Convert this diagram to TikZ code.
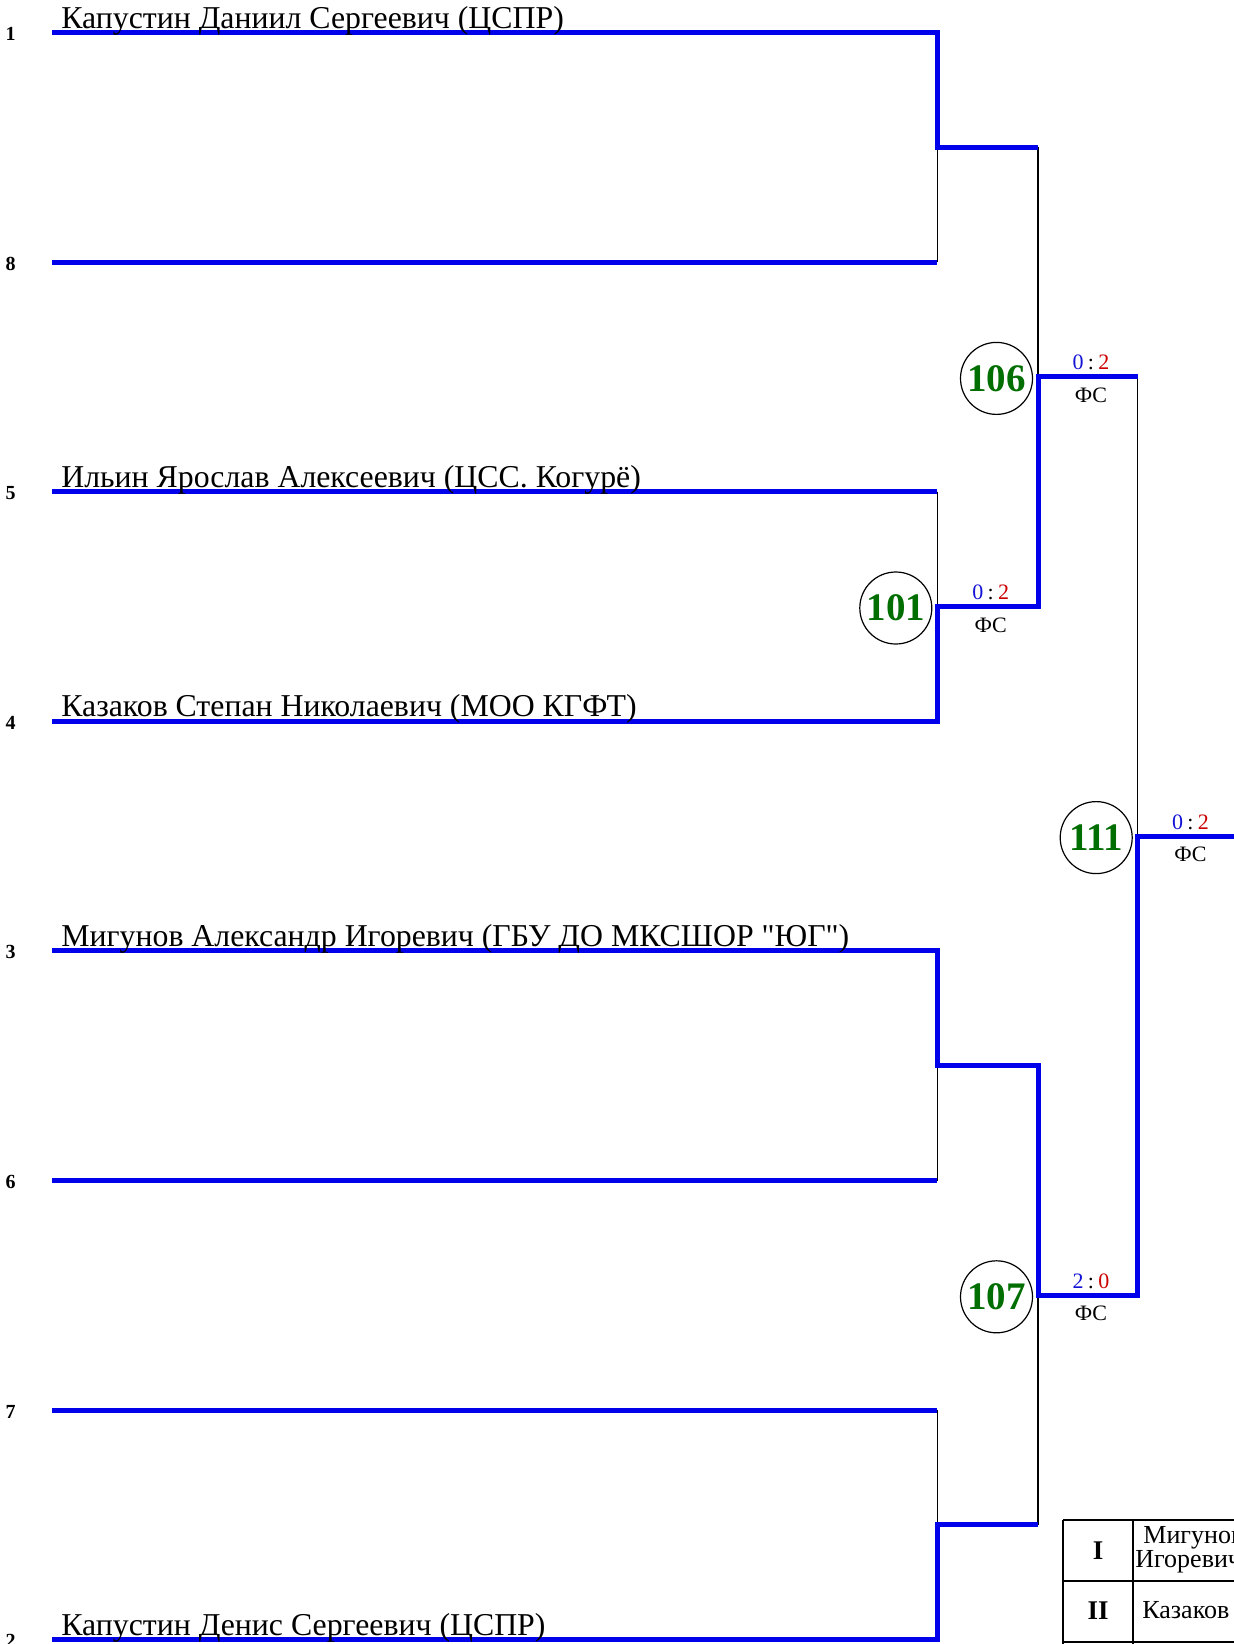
\documentclass[tikz,border=0pt]{standalone}
\usepackage{fontspec}
\setmainfont{Liberation Serif}[Ligatures=TeXOff]
\definecolor{lineblue}{RGB}{0,0,235}
\definecolor{numgreen}{RGB}{0,110,0}
\definecolor{sred}{RGB}{205,0,0}
\definecolor{sblue}{RGB}{20,20,215}
\newcommand{\scsep}{\hspace{0.2em}}
\begin{document}
\begin{tikzpicture}[x=0.5pt,y=-0.5pt,
  bseed/.style={font=\bfseries\fontsize{10}{12}\selectfont, anchor=base, inner sep=0},
  bname/.style={font=\fontsize{15.9}{18}\selectfont, anchor=base west, inner sep=0},
  bmatch/.style={circle, draw=black, line width=0.6pt, minimum size=36pt, inner sep=0, text=numgreen, font=\bfseries\fontsize{19.5}{22}\selectfont},
  bscore/.style={font=\fontsize{11}{13}\selectfont, anchor=base, inner sep=0},
  bwin/.style={draw=lineblue, line width=2.5pt},
  blink/.style={draw=black, line width=0.7pt},
  tline/.style={draw=black, line width=1pt},
  tcell/.style={font=\fontsize{13}{15}\selectfont, anchor=base west, inner sep=0},
  troman/.style={font=\bfseries\fontsize{13.5}{15}\selectfont, anchor=center, inner sep=0}]
\useasboundingbox (0,0) rectangle (1234,1644);
\fill[white] (0,0) rectangle (1234,1644);
\clip (0,0) rectangle (1234,1644);
% seed line positions
\def\xL{52.4}\def\xA{937.3}\def\xB{1038}\def\xC{1137.7}
% left ends
\coordinate (L1) at (\xL,32.5);   \coordinate (R1) at (\xA,32.5);
\coordinate (L8) at (\xL,262.1);  \coordinate (R8) at (\xA,262.1);
\coordinate (L5) at (\xL,491.7);  \coordinate (R5) at (\xA,491.7);
\coordinate (L4) at (\xL,721.3);  \coordinate (R4) at (\xA,721.3);
\coordinate (L3) at (\xL,950.9);  \coordinate (R3) at (\xA,950.9);
\coordinate (L6) at (\xL,1180.5); \coordinate (R6) at (\xA,1180.5);
\coordinate (L7) at (\xL,1410.1); \coordinate (R7) at (\xA,1410.1);
\coordinate (L2) at (\xL,1639.7); \coordinate (R2) at (\xA,1639.7);
% round 1 junctions
\coordinate (M1) at (\xA,147.3);  \coordinate (N1) at (\xB,147.3);
\coordinate (M2) at (\xA,606.5);  \coordinate (N2) at (\xB,606.5);
\coordinate (M3) at (\xA,1065.7); \coordinate (N3) at (\xB,1065.7);
\coordinate (M4) at (\xA,1524.9); \coordinate (N4) at (\xB,1524.9);
% round 2
\coordinate (P106) at (\xB,376.9);  \coordinate (Q106) at (\xC,376.9);
\coordinate (P107) at (\xB,1295.3); \coordinate (Q107) at (\xC,1295.3);
% final
\coordinate (F) at (\xC,836.1); \coordinate (E) at (1245,836.1);

% thin connectors (losers)
\draw[blink] (R8) -- (M1);
\draw[blink] (R5) -- (M2);
\draw[blink] (R6) -- (M3);
\draw[blink] (R7) -- (M4);
\draw[blink] (N1) -- (P106);
\draw[blink] (N4) -- (P107);
\draw[blink] (Q106) -- (F);

% blue lines
\draw[bwin] (L8) -- (R8);
\draw[bwin] (L5) -- (R5);
\draw[bwin] (L6) -- (R6);
\draw[bwin] (L7) -- (R7);
\draw[bwin] (L1) -- (R1) -- (M1) -- (N1);
\draw[bwin] (L2) -- (R2) -- (M4) -- (N4);
\draw[bwin] (L4) -- (R4) -- (M2) -- (N2) -- (P106) -- (Q106);
\draw[bwin] (L3) -- (R3) -- (M3) -- (N3) -- (P107) -- (Q107) -- (F) -- (E);

% seed numbers
\node[bseed] (n1) at (10.5,40.5) {1};
\node[bseed] (n8) at (10.5,270.1) {8};
\node[bseed] (n5) at (10.5,499.7) {5};
\node[bseed] (n4) at (10.5,729.3) {4};
\node[bseed] (n3) at (10.5,958.9) {3};
\node[bseed] (n6) at (10.5,1188.5) {6};
\node[bseed] (n7) at (10.5,1418.1) {7};
\node[bseed] (n2) at (10.5,1647.7) {2};

% names
\node[bname] (name1) at (61,28) {Капустин Даниил Сергеевич (ЦСПР)};
\node[bname] (name5) at (61,487.2) {Ильин Ярослав Алексеевич (ЦСС. Когурё)};
\node[bname] (name4) at (61,716.8) {Казаков Степан Николаевич (МОО КГФТ)};
\node[bname] (name3) at (61,946.4) {Мигунов Александр Игоревич (ГБУ ДО МКСШОР "ЮГ")};
\node[bname] (name2) at (61,1635.2) {Капустин Денис Сергеевич (ЦСПР)};

% match circles
\node[bmatch] (c101) at (895.8,608) {101};
\node[bmatch] (c106) at (996.5,378.4) {106};
\node[bmatch] (c111) at (1096.2,837.6) {111};
\node[bmatch] (c107) at (996.5,1296.8) {107};

% scores
\node[bscore] (s101) at (990.7,599.5) {\textcolor{sblue}{0}\scsep:\scsep\textcolor{sred}{2}};
\node[bscore] (f101) at (990.7,632) {ФС};
\node[bscore] (s106) at (1091,369.9) {\textcolor{sblue}{0}\scsep:\scsep\textcolor{sred}{2}};
\node[bscore] (f106) at (1091,402.4) {ФС};
\node[bscore] (s111) at (1190.5,829.1) {\textcolor{sblue}{0}\scsep:\scsep\textcolor{sred}{2}};
\node[bscore] (f111) at (1190.5,861.6) {ФС};
\node[bscore] (s107) at (1091,1288.3) {\textcolor{sblue}{2}\scsep:\scsep\textcolor{sred}{0}};
\node[bscore] (f107) at (1091,1320.8) {ФС};

% result table (cut by the frame)
\draw[tline] (1063,1520) -- (1250,1520);
\draw[tline] (1063,1580.5) -- (1250,1580.5);
\draw[tline] (1063,1642) -- (1250,1642);
\draw[tline] (1063,1520) -- (1063,1660);
\draw[tline] (1133,1520) -- (1133,1660);
\node[troman] (rI) at (1098,1551) {I};
\node[troman] (rII) at (1098,1611) {II};
\node[tcell] (t1a) at (1143,1543) {Мигунов Александр};
\node[tcell] (t1b) at (1135,1567) {Игоревич};
\node[tcell] (t2) at (1142,1618) {Казаков Степан};
\end{tikzpicture}
\end{document}
